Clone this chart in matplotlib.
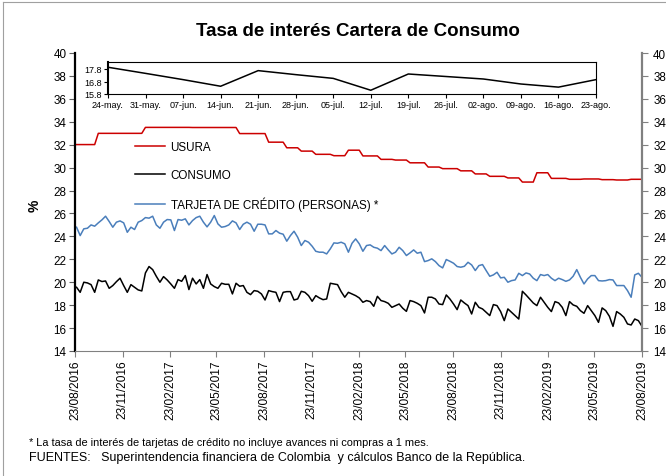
import pandas as pd
import matplotlib
matplotlib.use('Agg')
import matplotlib.pyplot as plt
import matplotlib.dates as mdates
from matplotlib.lines import Line2D

plt.rcParams['font.family'] = ['Liberation Sans', 'DejaVu Sans']

C_USURA = '#cc0000'
C_CONSUMO = '#000000'
C_TARJETA = '#4a7ebb'

# weekly series (Fridays), 26/08/2016 - 23/08/2019
inicio = '2016-08-26'
fin = '2019-08-23'

consumo = [
    19.56, 19.12, 20.0, 19.94, 19.79, 19.12, 20.2, 20.06, 20.11, 19.47,
    19.71, 20.05, 20.35, 19.71, 19.12, 19.79, 19.56, 19.33, 19.24, 20.81,
    21.37, 21.1, 20.52, 20.0, 20.49, 20.2, 19.85, 19.47, 20.23, 20.08,
    20.58, 19.36, 20.35, 19.85, 20.23, 19.47, 20.67,
    19.85, 19.62, 19.47, 19.91, 19.82, 19.82, 18.98, 19.91, 19.65, 19.71,
    19.12, 18.92, 19.27, 19.21, 18.98, 18.45, 19.27, 19.18, 19.12, 18.31,
    19.12, 19.18, 19.18, 18.45, 18.54, 19.21, 19.12, 18.83, 18.34, 18.83,
    18.63, 18.48, 18.54, 19.91, 19.85, 19.79, 19.18, 18.69, 19.12, 18.98,
    18.83, 18.63, 18.25, 18.4, 18.31, 17.9, 18.77, 18.4, 18.31, 18.16,
    17.81, 17.96, 18.1, 17.73, 17.46, 18.4, 18.31, 18.16, 17.96, 17.32,
    18.69, 18.69, 18.54, 18.1, 18.05, 18.89, 18.54, 18.1, 17.61, 18.45,
    18.19, 17.96, 17.23, 18.25, 17.81, 17.67, 17.38, 17.09,
    18.05, 17.96, 17.44, 16.65, 17.67, 17.38, 17.09, 16.79, 19.21, 18.89,
    18.54, 18.19, 17.96, 18.69, 18.25, 17.81, 17.44, 18.31, 18.19, 17.81,
    17.09, 18.31, 18.02, 17.9, 17.52, 17.29, 17.96, 17.52, 17.09, 16.5,
    17.76, 17.52, 17.03, 16.15, 17.44, 17.23, 16.94, 16.36, 16.27, 16.79,
    16.65, 16.15,
]

tarjeta = [
    24.8, 24.07, 24.66, 24.71, 25.0, 24.89, 25.18, 25.44, 25.76, 25.3,
    24.8, 25.24, 25.35, 25.18, 24.36, 24.8, 24.6, 25.24, 25.38, 25.64,
    25.59, 25.76, 25.0, 24.71, 25.24, 25.47, 25.44, 24.51, 25.47, 25.41,
    25.53, 25.0, 25.38, 25.64, 25.76, 25.24, 24.83,
    25.24, 25.82, 25.09, 24.8, 24.86, 25.0, 25.35, 25.18, 24.6, 25.06,
    25.24, 25.06, 24.45, 25.06, 25.06, 25.0, 24.22, 24.22, 24.51, 24.28,
    24.19, 23.58, 24.07, 24.45, 23.93, 23.2, 23.64, 23.49, 23.14, 22.7,
    22.62, 22.62, 22.47, 22.91, 23.43, 23.4, 23.49, 23.35, 22.62, 23.4,
    23.78, 23.35, 22.7, 23.2, 23.26, 23.05, 22.97, 22.76, 23.2, 22.82,
    22.47, 22.62, 23.05, 22.76, 22.33, 22.56, 22.82, 22.53, 22.62, 21.8,
    21.89, 22.04, 21.8, 21.45, 21.25, 21.98, 21.83, 21.66, 21.37, 21.31,
    21.39, 21.74, 21.51, 21.02, 21.45, 21.54, 21.02, 20.52,
    20.64, 20.87, 20.38, 20.43, 20.0, 20.14, 20.2, 20.78, 20.58, 20.81,
    20.72, 20.35, 20.14, 20.67, 20.58, 20.67, 20.35, 20.14, 20.35, 20.23,
    20.08, 20.2, 20.52, 21.1, 20.43, 19.85, 20.29, 20.58, 20.58, 20.14,
    20.11, 20.14, 20.23, 20.2, 19.71, 19.71, 19.71, 19.27, 18.69, 20.64,
    20.78, 20.43,
]

# usury rate certified monthly
usura_meses = [
    '2016-08', '2016-09', '2016-10', '2016-11', '2016-12',
    '2017-01', '2017-02', '2017-03', '2017-04', '2017-05', '2017-06',
    '2017-07', '2017-08', '2017-09', '2017-10', '2017-11', '2017-12',
    '2018-01', '2018-02', '2018-03', '2018-04', '2018-05', '2018-06',
    '2018-07', '2018-08', '2018-09', '2018-10', '2018-11', '2018-12',
    '2019-01', '2019-02', '2019-03', '2019-04', '2019-05', '2019-06',
    '2019-07', '2019-08',
]
usura_tasa = [
    32.01, 32.01, 32.99, 32.99, 32.99,
    33.51, 33.51, 33.51, 33.50, 33.50, 33.50,
    32.97, 32.97, 32.22, 31.73, 31.44, 31.16,
    31.04, 31.52, 31.02, 30.72, 30.66, 30.42,
    30.05, 29.91, 29.72, 29.45, 29.24, 29.10,
    28.74, 29.55, 29.06, 28.98, 29.01, 28.95,
    28.92, 28.98,
]

# inset: last 14 weeks
inset_fechas = ['24-may.', '31-may.', '07-jun.', '14-jun.', '21-jun.', '28-jun.', '05-jul.',
                '12-jul.', '19-jul.', '26-jul.', '02-ago.', '09-ago.', '16-ago.', '23-ago.']
inset_consumo = [17.94, 17.45, 16.95, 16.42, 17.67, 17.35, 17.05,
                 16.1, 17.4, 17.2, 17.0, 16.6, 16.35, 16.95]


fechas = pd.date_range(inicio, fin, freq='7D')
usura_map = dict(zip(usura_meses, usura_tasa))
usura = [usura_map[d.strftime('%Y-%m')] for d in fechas]

fig = plt.figure(figsize=(6.66, 4.77), dpi=100)
W, H = 666, 477

# chart area frame
fig.add_artist(Line2D([3 / W, 3 / W], [0, 1 - 3 / H], color='#a0a0a0', lw=0.8))
fig.add_artist(Line2D([3 / W, 1], [1 - 3 / H, 1 - 3 / H], color='#a0a0a0', lw=0.8))

ax = fig.add_axes([75 / W, 1 - 352 / H, 567 / W, 298 / H])
ax.plot(fechas, usura, color=C_USURA, lw=1.1, label='USURA')
ax.plot(fechas, consumo, color=C_CONSUMO, lw=1.1, label='CONSUMO')
ax.plot(fechas, tarjeta, color=C_TARJETA, lw=1.1, label='TARJETA DE CRÉDITO (PERSONAS) *')

ax.set_xlim(pd.Timestamp('2016-08-23'), pd.Timestamp('2019-08-23'))
ax.set_ylim(14, 40)
ax.set_yticks(range(14, 41, 2))
ticks = [pd.Timestamp('2016-08-23') + pd.DateOffset(months=3 * k) for k in range(13)]
ax.set_xticks(ticks)
ax.xaxis.set_major_formatter(mdates.DateFormatter('%d/%m/%Y'))
ax.tick_params(axis='x', rotation=90, labelsize=8.6, length=4, color='#808080', pad=2)
ax.tick_params(axis='y', labelsize=8.4, length=4, color='#606060', pad=2)
ax.spines['top'].set_visible(False)
ax.spines['right'].set_visible(False)
ax.spines['left'].set_linewidth(1.6)
ax.spines['bottom'].set_color('#808080')

ax2 = ax.twinx()
ax2.set_ylim(14, 40)
ax2.set_yticks(range(14, 41, 2))
ax2.tick_params(axis='y', labelsize=8.4, length=4, color='#808080', pad=4)
for s in ['top', 'left', 'bottom']:
    ax2.spines[s].set_visible(False)
ax2.spines['right'].set_color('#808080')
ax2.spines['right'].set_linewidth(1.6)

ax.legend(loc='upper left', bbox_to_anchor=(135 / W, 1 - 142 / H),
          bbox_transform=fig.transFigure, frameon=False, fontsize=8.4,
          handlelength=2.6, handletextpad=0.45, labelspacing=1.35,
          borderpad=0, borderaxespad=0)

# inset
axi = fig.add_axes([108 / W, 1 - 95 / H, 488 / W, 32 / H])
axi.plot(range(len(inset_consumo)), inset_consumo, color='black', lw=1.1)
axi.set_xlim(0, len(inset_consumo) - 1)
axi.set_ylim(15.8, 18.36)
axi.set_yticks([15.8, 16.8, 17.8])
axi.set_yticklabels(['15.8', '16.8', '17.8'])
axi.set_xticks(range(len(inset_fechas)))
axi.set_xticklabels(inset_fechas)
axi.tick_params(axis='both', labelsize=6.5, length=3, pad=1.5)
axi.spines['left'].set_linewidth(1.5)

fig.text(358 / W, 1 - 31 / H, 'Tasa de interés Cartera de Consumo', fontsize=13.5,
         fontweight='bold', ha='center', va='center')
fig.text(35 / W, 1 - 206 / H, '%', rotation=90, fontsize=10, fontweight='bold',
         ha='center', va='center')
fig.text(29 / W, 1 - 443 / H,
         '* La tasa de interés de tarjetas de crédito no incluye avances ni compras a 1 mes.',
         fontsize=7.9, va='center')
fig.text(29 / W, 1 - 458 / H,
         'FUENTES:   Superintendencia financiera de Colombia  y cálculos Banco de la República.',
         fontsize=9, va='center')

fig.savefig('out.png', dpi=100, facecolor='white')
